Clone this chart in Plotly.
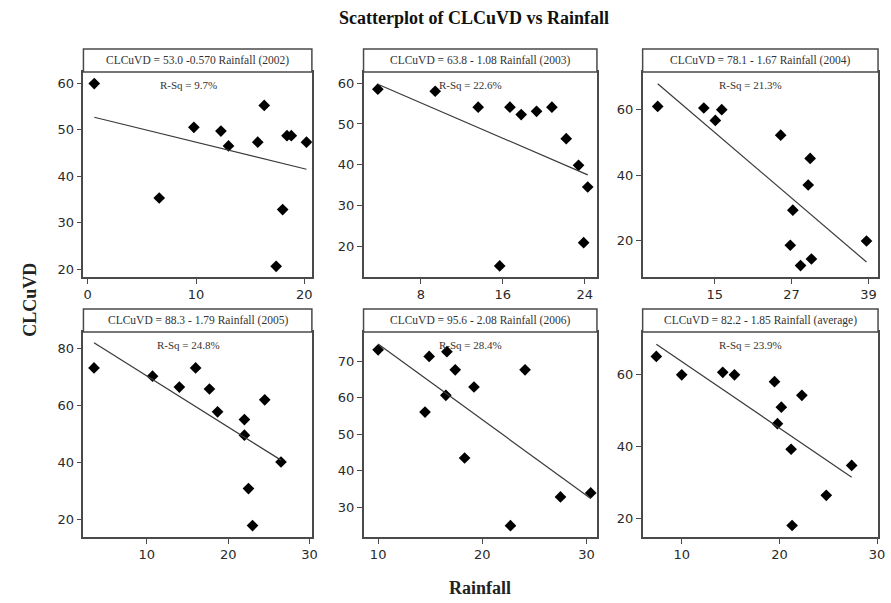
import plotly.graph_objects as go

# Rainfall (x) and CLCuVD incidence (y) per season
rain_2002 = [0.6, 6.6, 9.8, 12.3, 13.0, 15.7, 16.3, 18.4, 18.8, 20.2, 18.0, 17.4]
clcuvd_2002 = [59.9, 35.3, 50.5, 49.7, 46.5, 47.3, 55.2, 48.7, 48.7, 47.3, 32.8, 20.6]

rain_2003 = [3.8, 9.4, 13.6, 16.7, 17.8, 19.3, 20.8, 22.2, 23.4, 24.3, 23.9, 15.7]
clcuvd_2003 = [58.5, 58.0, 54.1, 54.1, 52.3, 53.1, 54.1, 46.4, 39.9, 34.6, 21.0, 15.3]

rain_2004 = [6.1, 13.3, 15.1, 16.1, 25.3, 29.9, 29.6, 27.2, 26.8, 28.4, 30.1, 38.7]
clcuvd_2004 = [61.0, 60.5, 56.7, 60.0, 52.2, 45.1, 37.0, 29.3, 18.6, 12.4, 14.4, 19.9]

rain_2005 = [3.5, 10.7, 14.0, 16.0, 17.7, 18.7, 22.0, 22.0, 24.5, 26.5, 22.5, 23.0]
clcuvd_2005 = [73.2, 70.3, 66.5, 73.2, 65.8, 57.8, 55.1, 49.6, 62.0, 40.2, 30.9, 17.9]

rain_2006 = [10.0, 14.9, 16.6, 17.4, 19.2, 16.5, 14.5, 18.3, 24.1, 27.5, 30.4, 22.7]
clcuvd_2006 = [73.2, 71.4, 72.7, 67.7, 63.0, 60.7, 56.1, 43.5, 67.7, 32.8, 33.9, 24.9]

rain_avg = [7.4, 10.0, 14.2, 15.4, 19.5, 20.2, 22.3, 19.8, 21.2, 27.4, 24.8, 21.3]
clcuvd_avg = [65.1, 60.0, 60.7, 60.0, 58.1, 51.0, 54.3, 46.4, 39.3, 34.8, 26.5, 18.1]

# Fitted regression lines: CLCuVD = intercept + slope * Rainfall
panel_names = ["2002", "2003", "2004", "2005", "2006", "average"]
intercepts = [53.0, 63.8, 78.1, 88.3, 95.6, 82.2]
slopes = [-0.570, -1.08, -1.67, -1.79, -2.08, -1.85]
slope_text = ["-0.570", "- 1.08", "- 1.67", "- 1.79", "- 2.08", "- 1.85"]
rsq = ["9.7%", "22.6%", "21.3%", "24.8%", "28.4%", "23.9%"]

# Axis ticks per panel
x_ticks = [[0, 10, 20], [8, 16, 24], [15, 27, 39], [10, 20, 30], [10, 20, 30], [10, 20, 30]]
y_ticks = [[20, 30, 40, 50, 60], [20, 30, 40, 50, 60], [20, 40, 60],
           [20, 40, 60, 80], [30, 40, 50, 60, 70], [20, 40, 60]]
x_ranges = [[-0.4, 20.7], [2.4, 25.2], [3.75, 40.5], [2.2, 30.3], [8.6, 31.0], [6.0, 30.1]]
y_ranges = [[18.3, 62.4], [12.6, 62.7], [8.9, 71.5], [13.9, 85.8], [21.8, 78.1], [14.9, 71.9]]

xs = [rain_2002, rain_2003, rain_2004, rain_2005, rain_2006, rain_avg]
ys = [clcuvd_2002, clcuvd_2003, clcuvd_2004, clcuvd_2005, clcuvd_2006, clcuvd_avg]

W, H = 891, 603
col_px = [(84, 314), (366, 601), (647, 884)]
row_px = [(72, 277), (332, 537)]
head_px = [(49, 72), (309, 332)]

fig = go.Figure()
layout = dict(
    width=W, height=H, margin=dict(l=0, r=0, t=0, b=0),
    paper_bgcolor="white", plot_bgcolor="white", showlegend=False,
)
shapes = []
annotations = []

for i in range(6):
    r, c = divmod(i, 3)
    ax = "" if i == 0 else str(i + 1)
    x0, x1 = col_px[c]
    y0, y1 = row_px[r]
    xd = [x0 / W, x1 / W]
    yd = [1 - y1 / H, 1 - y0 / H]
    common = dict(
        showline=True, linecolor="#4a4a4a", linewidth=1.5, mirror=True,
        showgrid=False, zeroline=False, ticks="outside", ticklen=5,
        tickwidth=1.3, tickcolor="#4a4a4a",
        tickfont=dict(family="DejaVu Sans", size=13, color="#2a2a2a"),
    )
    layout["xaxis" + ax] = dict(common, domain=xd, range=x_ranges[i],
                                tickvals=x_ticks[i], anchor="y" + ax)
    layout["yaxis" + ax] = dict(common, domain=yd, range=y_ranges[i],
                                tickvals=y_ticks[i], anchor="x" + ax)

    # Data points
    fig.add_trace(go.Scatter(
        x=xs[i], y=ys[i], mode="markers", xaxis="x" + ax, yaxis="y" + ax,
        marker=dict(symbol="diamond", size=9, color="black"),
        hoverinfo="x+y",
    ))
    # Fitted line over the observed rainfall span
    lx = [min(xs[i]), max(xs[i])]
    ly = [intercepts[i] + slopes[i] * v for v in lx]
    fig.add_trace(go.Scatter(
        x=lx, y=ly, mode="lines", xaxis="x" + ax, yaxis="y" + ax,
        line=dict(color="#3a3a3a", width=1.2), hoverinfo="skip",
    ))

    # Equation header strip
    h0, h1 = head_px[r]
    shapes.append(dict(
        type="rect", xref="paper", yref="paper",
        x0=x0 / W, x1=x1 / W, y0=1 - h1 / H, y1=1 - h0 / H,
        line=dict(color="#4a4a4a", width=1.5), fillcolor="white",
    ))
    eq = f"CLCuVD = {intercepts[i]:.1f} {slope_text[i]} Rainfall ({panel_names[i]})"
    annotations.append(dict(
        text=eq, xref="paper", yref="paper",
        x=(x0 + x1) / 2 / W, y=1 - (h0 + h1) / 2 / H,
        showarrow=False, xanchor="center", yanchor="middle",
        font=dict(family="Liberation Serif", size=11.5, color="#333333"),
    ))
    annotations.append(dict(
        text=f"R-Sq = {rsq[i]}", xref="paper", yref="paper",
        x=(x0 + 0.46 * (x1 - x0)) / W, y=1 - (y0 + 13) / H,
        showarrow=False, xanchor="center", yanchor="middle",
        font=dict(family="Liberation Serif", size=11, color="#333333"),
    ))

# Figure title and shared axis labels
annotations.append(dict(
    text="<b>Scatterplot of CLCuVD vs Rainfall</b>", xref="paper", yref="paper",
    x=477 / W, y=1 - 18 / H, showarrow=False, xanchor="center", yanchor="middle",
    font=dict(family="Liberation Serif", size=18, color="#111111"),
))
annotations.append(dict(
    text="<b>CLCuVD</b>", xref="paper", yref="paper",
    x=30 / W, y=1 - 300 / H, showarrow=False, textangle=-90,
    xanchor="center", yanchor="middle",
    font=dict(family="Liberation Serif", size=18, color="#222222"),
))
annotations.append(dict(
    text="<b>Rainfall</b>", xref="paper", yref="paper",
    x=483 / W, y=1 - 588 / H, showarrow=False, xanchor="center", yanchor="middle",
    font=dict(family="Liberation Serif", size=18, color="#222222"),
))

layout["shapes"] = shapes
layout["annotations"] = annotations
fig.update_layout(**layout)
fig.write_html("out.html")
